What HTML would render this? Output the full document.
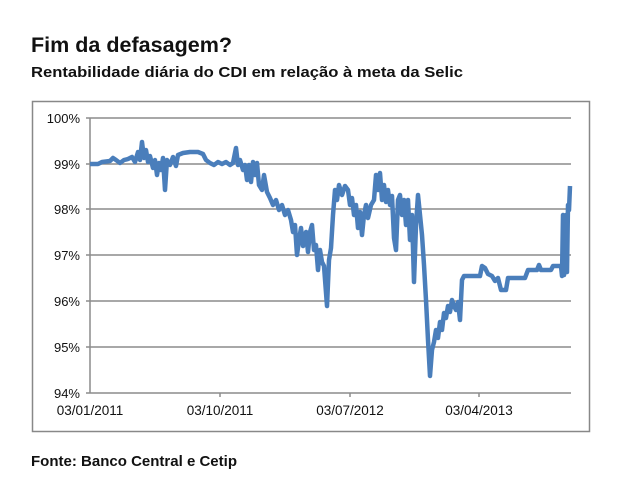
<!DOCTYPE html>
<html><head><meta charset="utf-8"><style>
body{margin:0;background:#fff;width:626px;height:474px;overflow:hidden;font-family:"Liberation Sans",sans-serif}
</style></head><body>
<svg width="626" height="474" xmlns="http://www.w3.org/2000/svg" font-family="Liberation Sans, sans-serif">
<text x="31" y="52" font-size="21" font-weight="bold" fill="#111" textLength="201" lengthAdjust="spacingAndGlyphs">Fim da defasagem?</text>
<text x="31" y="77" font-size="15" font-weight="bold" fill="#111" textLength="432" lengthAdjust="spacingAndGlyphs">Rentabilidade diária do CDI em relação à meta da Selic</text>
<rect x="32.5" y="101.5" width="557" height="330" fill="#fff" stroke="#888" stroke-width="1.5"/>
<g stroke="#8c8c8c" stroke-width="1.5">
<line x1="90" y1="118" x2="571" y2="118"/>
<line x1="90" y1="164" x2="571" y2="164"/>
<line x1="90" y1="209" x2="571" y2="209"/>
<line x1="90" y1="255" x2="571" y2="255"/>
<line x1="90" y1="301" x2="571" y2="301"/>
<line x1="90" y1="347" x2="571" y2="347"/>
<line x1="86" y1="393" x2="571" y2="393"/>
<line x1="90" y1="118" x2="90" y2="393"/>
<line x1="86" y1="118" x2="90" y2="118"/><line x1="86" y1="164" x2="90" y2="164"/><line x1="86" y1="209" x2="90" y2="209"/><line x1="86" y1="255" x2="90" y2="255"/><line x1="86" y1="301" x2="90" y2="301"/><line x1="86" y1="347" x2="90" y2="347"/>
<line x1="220" y1="393" x2="220" y2="397"/><line x1="350" y1="393" x2="350" y2="397"/><line x1="479" y1="393" x2="479" y2="397"/>
</g>
<g font-size="13" fill="#111" text-anchor="end">
<text x="80" y="123">100%</text><text x="80" y="169">99%</text><text x="80" y="214">98%</text><text x="80" y="260">97%</text><text x="80" y="306">96%</text><text x="80" y="352">95%</text><text x="80" y="398">94%</text>
</g>
<g font-size="13.5" fill="#111" text-anchor="middle">
<text x="90" y="415">03/01/2011</text><text x="220" y="415">03/10/2011</text><text x="350" y="415">03/07/2012</text><text x="479" y="415">03/04/2013</text>
</g>
<polyline fill="none" stroke="#4a7ebb" stroke-width="4.5" stroke-linejoin="round" points="
90,164 98,164 102,162 110,161 113,158 116,160 120,163 124,160 128,159 132,157 135,162 138,152 140,160 142,142 144,158 146,150 148,162 150,156 153,168 155,160 157,175 159,163 161,170 163,158 165,190 167,160 170,165 173,157 176,166 178,155 183,153 190,152 198,152 203,154 206,160 210,163 214,165 218,162 222,164 226,162 230,165 233,163 236,148 238,165 240,160 243,170 245,165 247,180 249,165 251,182 253,162 255,175 257,163 259,185 262,190 264,175 267,192 270,198 273,205 276,200 279,210 282,205 285,215 288,210 291,220 293,232 295,225 297,255 299,240 301,228 303,246 306,232 308,252 310,232 312,225 314,250 316,245 318,270 320,250 322,262 324,266 327,306 329,260 331,248 333,215 335,190 337,200 339,185 342,195 345,186 348,190 350,205 352,198 354,215 356,205 358,228 360,212 362,235 364,215 366,205 368,218 371,205 374,200 376,175 378,190 380,173 382,200 384,185 386,202 388,190 390,205 392,196 394,238 396,250 398,200 400,195 402,215 404,200 406,225 408,200 410,240 412,215 414,282 416,225 418,195 420,215 422,235 424,265 426,300 428,340 430,376 432,350 434,342 436,330 438,338 440,322 442,330 444,313 446,318 448,306 450,312 452,300 454,306 456,310 458,302 460,320 462,280 464,276 480,276 482,266 485,268 488,274 492,276 495,281 498,278 501,290 506,290 508,278 525,278 528,270 537,270 539,265 541,270 551,270 553,266 561,266 562,276 563,215 564,275 565,270 566,215 567,272 568,205 569,210 570,186"/>
<text x="31" y="466" font-size="15" font-weight="bold" fill="#111" textLength="206" lengthAdjust="spacingAndGlyphs">Fonte: Banco Central e Cetip</text>
</svg>
</body></html>
